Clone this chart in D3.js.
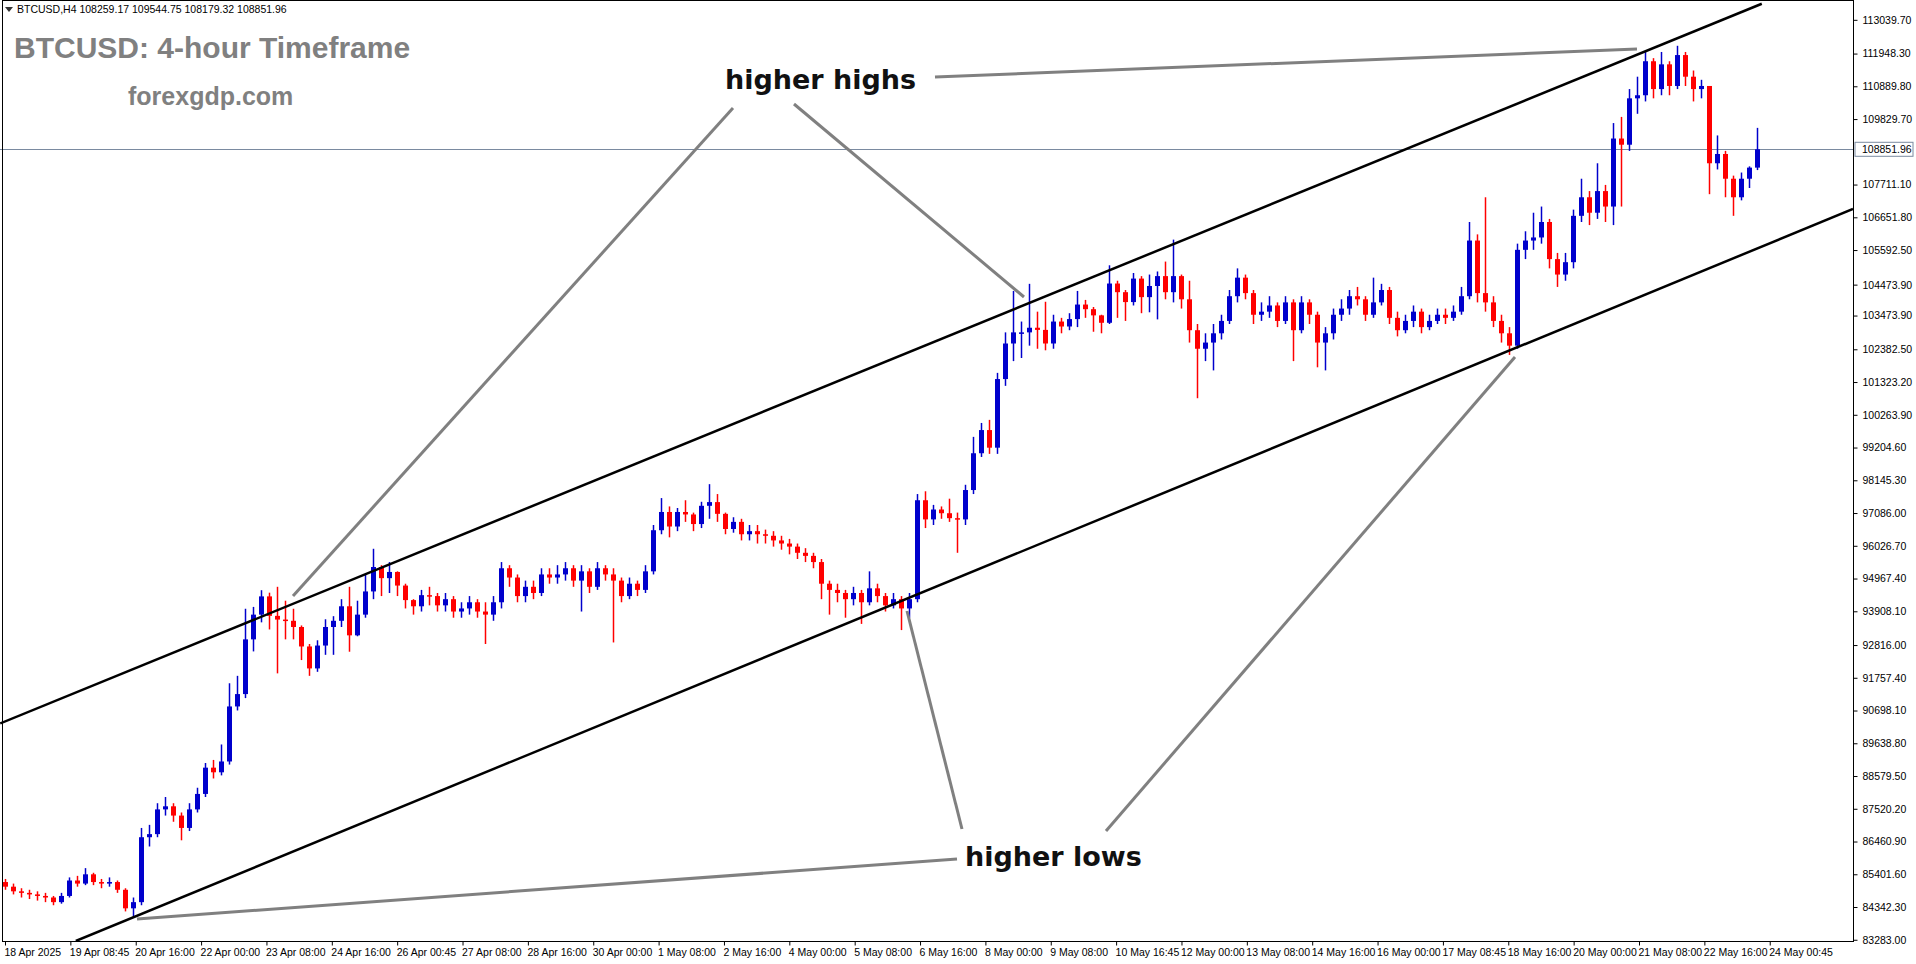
<!DOCTYPE html>
<html>
<head>
<meta charset="utf-8">
<script src="https://cdn.jsdelivr.net/npm/d3@7"></script>
<style>
  body { margin: 0; background: #fff; }
  svg { display: block; }
</style>
</head>
<body>
<script>
// ---------------------------------- data ----------------------------------
const closes = [85000,84850,84800,84750,84700,84650,84500,84700,85200,85100,85400,85150,85100,85150,84900,84300,84500,86600,86700,87500,
  87600,87300,86900,87500,88000,88850,88700,89050,90830,91230,93000,93800,94390,93760,93640,93600,93400,92770,92060,92800,
  93400,93600,94070,93130,93800,94550,95340,94980,95180,94740,94270,94070,94430,94400,94100,94300,93900,94000,94200,93900,
  93800,94200,95300,95000,94400,94700,94500,95100,95000,95100,95300,94900,95200,94700,95300,95100,94900,94400,94800,94600,
  95200,96530,97120,96650,97120,97040,96730,97320,97440,97060,96570,96800,96400,96500,96400,96350,96200,96100,96000,95800,
  95700,95500,94800,94600,94500,94300,94500,94200,94650,94400,94100,94300,94000,94300,97500,96880,97200,97080,96920,96880,
  97830,99020,99770,99200,101420,102570,102930,102930,103080,103010,102570,103280,103120,103360,103830,103680,103480,103240,104510,104230,
  103910,104670,104070,104430,104750,104230,104750,104000,103000,102400,102600,102900,103300,104100,104700,104200,103500,103600,103800,103300,
  103900,103000,103900,103500,102600,102900,103500,103700,104100,104000,103500,103900,104300,103400,103000,103300,103600,103100,103300,103500,
  103400,103600,104100,105900,104200,103900,103300,102900,102500,105600,105900,106000,106500,105300,104800,105200,106700,107300,106800,107500,
  107000,109200,109000,110500,110600,111700,110800,111600,110900,111900,111200,110800,110900,108400,108700,107900,107300,107900,108259,108851.96];

const highs = [85250,85100,84950,84900,84850,84800,84700,84800,85300,85350,85600,85450,85250,85300,85200,84950,84650,86900,87000,87700,
  87900,87700,87400,87700,88200,89000,89100,89600,91580,91820,93990,94050,94590,94510,94700,94250,93990,93450,92850,92970,
  93650,93750,94300,94700,94250,95100,95930,95400,95500,95200,94800,94300,94600,94700,94500,94500,94400,94200,94400,94300,
  94200,94400,95500,95400,95100,94900,94900,95300,95300,95400,95500,95400,95400,95300,95500,95400,95300,95000,95000,94900,
  95400,96700,97570,97300,97250,97500,97100,97450,98020,97700,97100,96950,96900,96700,96700,96550,96500,96350,96250,96100,
  95950,95800,95600,94900,94800,94600,94700,94600,95200,94800,94500,94500,94400,94500,97700,97790,97350,97300,97550,97100,
  98000,99550,100000,100100,101620,102930,104270,103280,104500,103600,103920,103500,103400,103550,104270,103980,103750,103500,105100,104600,
  104300,104850,104750,104800,104900,105220,105930,104800,104600,103200,102900,103200,103500,104300,105000,104800,104300,103900,104100,103900,
  104100,104000,104100,104000,103600,103100,103700,104000,104300,104400,104100,104700,104500,104400,103600,103500,103800,103700,103500,103700,
  103700,103800,104400,106500,106100,107300,104100,103500,103100,105800,106200,106800,107000,106600,105500,105500,106900,107900,107500,108400,
  107700,109700,109900,110800,111200,112000,111800,112000,111700,112200,112000,111400,111100,110900,109300,108800,108000,108100,108300,109544.75];

const lows = [84900,84750,84650,84600,84550,84500,84400,84450,84650,85000,85050,85050,84950,85000,84800,84200,84000,84400,86300,86600,
  87300,87100,86500,86800,87400,87900,88500,88600,88950,90700,91100,92610,93550,93320,91900,93000,93000,92330,91820,91950,
  92500,92500,93400,92600,93100,93700,94300,94400,94500,94400,94000,93800,93900,94100,93900,93900,93700,93700,93800,93700,
  92850,93600,94000,94700,94200,94200,94300,94400,94800,94800,94900,94700,93900,94500,94600,94900,92900,94200,94300,94400,
  94500,95100,96400,96300,96500,96800,96500,96600,96900,96800,96400,96450,96200,96200,96100,96100,96000,95900,95750,95600,
  95500,95300,94300,93800,94200,93700,94100,93500,94100,94200,93900,94000,93300,93700,94200,96600,96700,96900,96800,95800,
  96700,97700,98900,99000,99000,101200,102000,102100,102500,102400,102350,102400,102900,103000,103100,103400,102950,102900,103200,103400,
  103300,103800,103550,103580,103350,104000,103900,103700,102600,100800,102000,101700,102700,103200,103900,104000,103200,103300,103400,103100,
  103200,102000,102900,103200,101800,101700,102700,103300,103500,103800,103300,103400,103800,103200,102800,102900,103100,102900,103000,103200,
  103200,103300,103500,104000,103900,103600,103100,102600,102200,102400,105300,105600,105800,105000,104400,104600,105000,106500,106400,106600,
  106500,106400,107000,108800,110000,110400,110500,110600,110600,110800,110900,110400,110500,107400,108200,107300,106700,107200,107600,108179.32];

const firstOpen = 85150;
const lastPrice = 108851.96;

const priceTicks = [113039.70,111948.30,110889.80,109829.70,107711.10,106651.80,105592.50,104473.90,103473.90,102382.50,
  101323.20,100263.90,99204.60,98145.30,97086.00,96026.70,94967.40,93908.10,92816.00,91757.40,90698.10,89638.80,
  88579.50,87520.20,86460.90,85401.60,84342.30,83283.00];

const dateLabels = ["18 Apr 2025","19 Apr 08:45","20 Apr 16:00","22 Apr 00:00","23 Apr 08:00","24 Apr 16:00","26 Apr 00:45",
  "27 Apr 08:00","28 Apr 16:00","30 Apr 00:00","1 May 08:00","2 May 16:00","4 May 00:00","5 May 08:00","6 May 16:00",
  "8 May 00:00","9 May 08:00","10 May 16:45","12 May 00:00","13 May 08:00","14 May 16:00","16 May 00:00","17 May 08:45",
  "18 May 16:00","20 May 00:00","21 May 08:00","22 May 16:00","24 May 00:45"];

// channel lines: [bar index, price]
const upperChannel = [[-0.6, 90280], [219.6, 113560]];
const lowerChannel = [[8.85, 83243], [231, 106920]];

// ---------------------------------- layout ----------------------------------
const W = 1916, H = 964;
const plotR = 1853, plotB = 941;
const barStep = 8;
const axisFont = "Liberation Sans";

const x = d3.scaleLinear().domain([0, 1]).range([5, 5 + barStep]);
const y = d3.scaleLinear().domain([83243, 113681]).range([plotB, 0]);

const svg = d3.select("body").append("svg").attr("width", W).attr("height", H);

svg.append("rect").attr("width", W).attr("height", H).attr("fill", "#fff");

svg.append("clipPath").attr("id", "clip")
  .append("rect").attr("x", 0).attr("y", 0).attr("width", plotR).attr("height", plotB);

const plot = svg.append("g").attr("clip-path", "url(#clip)");

// current price line
plot.append("line")
  .attr("x1", 0).attr("x2", plotR)
  .attr("y1", Math.round(y(lastPrice)) + 0.5).attr("y2", Math.round(y(lastPrice)) + 0.5)
  .attr("stroke", "#7a8aa0").attr("stroke-width", 1);

// candles
const candles = closes.map((c, i) => ({
  i, o: i === 0 ? firstOpen : closes[i - 1], h: highs[i], l: lows[i], c
}));

const cg = plot.selectAll("g.candle").data(candles).join("g").attr("class", "candle");
cg.append("line")
  .attr("x1", d => Math.round(x(d.i)) + 0.5).attr("x2", d => Math.round(x(d.i)) + 0.5)
  .attr("y1", d => y(d.h)).attr("y2", d => y(d.l))
  .attr("stroke", d => d.c >= d.o ? "#0000cc" : "#ff0000").attr("stroke-width", 1.5);
cg.append("rect")
  .attr("x", d => Math.round(x(d.i)) - 2)
  .attr("width", 5)
  .attr("y", d => y(Math.max(d.o, d.c)))
  .attr("height", d => Math.max(1.5, Math.abs(y(d.o) - y(d.c))))
  .attr("fill", d => d.c >= d.o ? "#0000cc" : "#ff0000");

// channel lines
const line = d3.line().x(d => x(d[0])).y(d => y(d[1]));
[upperChannel, lowerChannel].forEach(ch => {
  plot.append("path").attr("d", line(ch)).attr("stroke", "#000").attr("stroke-width", 2.5).attr("fill", "none");
});

// annotation pointers (pixel layout)
const pointers = [
  [733,108,293,596],[794,104,1024,297],[935,77,1637,49],
  [962,829,907,611],[1106,831,1515,357],[957,859,137,919]
];
pointers.forEach(p => {
  svg.append("line").attr("x1", p[0]).attr("y1", p[1]).attr("x2", p[2]).attr("y2", p[3])
    .attr("stroke", "#808080").attr("stroke-width", 3);
});

svg.append("text").attr("x", 725).attr("y", 89).text("higher highs")
  .attr("font-family", "DejaVu Sans").attr("font-weight", "bold").attr("font-size", 27).attr("fill", "#111");
svg.append("text").attr("x", 965).attr("y", 866).text("higher lows")
  .attr("font-family", "DejaVu Sans").attr("font-weight", "bold").attr("font-size", 27).attr("fill", "#111");

// title
svg.append("text").attr("x", 14).attr("y", 58).text("BTCUSD: 4-hour Timeframe")
  .attr("font-family", "Liberation Sans").attr("font-weight", "bold").attr("font-size", 30).attr("fill", "#808080");
svg.append("text").attr("x", 128).attr("y", 105).text("forexgdp.com")
  .attr("font-family", "Liberation Sans").attr("font-weight", "bold").attr("font-size", 25).attr("fill", "#808080");

// header
svg.append("path").attr("d", "M5,7 L13,7 L9,12 Z").attr("fill", "#333");
svg.append("text").attr("x", 17).attr("y", 13).text("BTCUSD,H4  108259.17 109544.75 108179.32 108851.96")
  .attr("font-family", axisFont).attr("font-size", 10.5).attr("fill", "#000");

// frame
svg.append("rect").attr("x", 2.5).attr("y", 0.5).attr("width", plotR - 2).attr("height", plotB)
  .attr("fill", "none").attr("stroke", "#000").attr("stroke-width", 1);

// right axis
const yAxis = d3.axisRight(y).tickValues(priceTicks).tickSize(4).tickFormat(d3.format(".2f"));
const ya = svg.append("g").attr("transform", `translate(${plotR + 0.5},0)`).call(yAxis);
ya.select(".domain").remove();
ya.selectAll("text").attr("font-family", axisFont).attr("font-size", 10.5).attr("fill", "#000").attr("x", 9);

// current price box
const py = y(lastPrice);
svg.append("rect").attr("x", plotR + 2).attr("y", py - 7).attr("width", 58).attr("height", 14)
  .attr("fill", "#fff").attr("stroke", "#7a8aa0");
svg.append("text").attr("x", plotR + 9).attr("y", py + 4).text(d3.format(".2f")(lastPrice))
  .attr("font-family", axisFont).attr("font-size", 10.5).attr("fill", "#000");

// bottom axis
const dateIdx = dateLabels.map((d, k) => k * 8.17);
const xAxis = d3.axisBottom(x).tickValues(dateIdx).tickSize(4).tickFormat((d, k) => dateLabels[k]);
const xa = svg.append("g").attr("transform", `translate(0,${plotB + 0.5})`).call(xAxis);
xa.select(".domain").remove();
xa.selectAll("text").attr("font-family", axisFont).attr("font-size", 10.5).attr("fill", "#000")
  .attr("text-anchor", "start").attr("dx", -1).attr("y", 7);
</script>
</body>
</html>
